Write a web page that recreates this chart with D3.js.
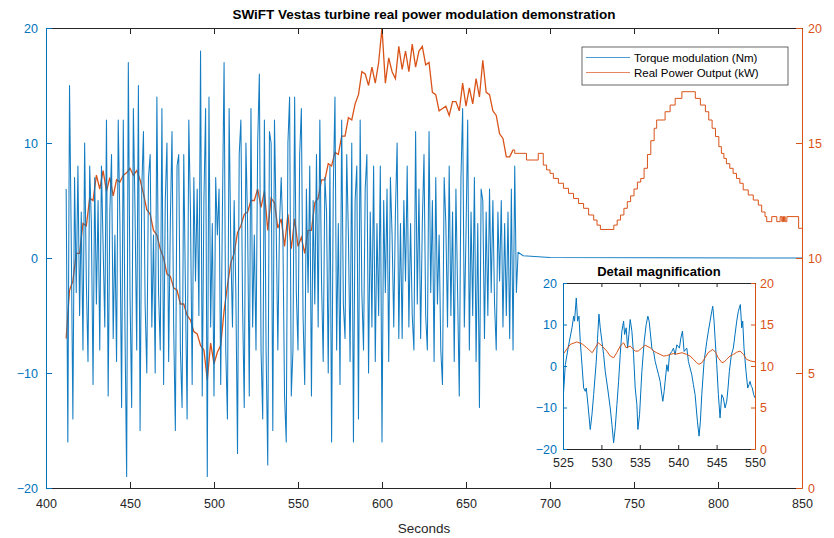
<!DOCTYPE html>
<html><head><meta charset="utf-8">
<script src="https://cdn.jsdelivr.net/npm/d3@7"></script>
<style>
body{margin:0;background:#fff}
svg{display:block}
text{font-family:"Liberation Sans",Arial,Helvetica,sans-serif}
</style>
</head><body>
<svg id="c" width="834" height="538"></svg>
<script>
// ---------- data ----------
const xTicks = [400,450,500,550,600,650,700,750,800,850];
const torqueTicks = [-20,-10,0,10,20];
const powerTicks = [0,5,10,15,20];
const insetXTicks = [525,530,535,540,545,550];

// Torque modulation (Nm), sampled every 1 s starting at 412 s
const torqueStart = 412, torqueStep = 1;
const torqueValues = [
 6,-16,15,2,-14,7,-3,8,-5,4,
 -8,10,-2,-9,8,3,-11,7,-4,5,
 -8,8,1,-6,12,-12,4,9,-7,2,
 -9,12,3,-13,12,-6,-19,17,-3,-13,
 13,4,-8,15,-15,6,11,-4,-10,7,
 9,-6,2,-10,14,-3,-8,13,-11,5,
 10,-9,3,11,-6,-15,8,9,-8,-13,
 9,-3,-14,12,4,-11,7,-2,6,-5,
 18,-12,5,13,-19,14,-6,3,-12,7,
 2,6,-11,4,17,-8,-14,13,1,-6,
 5,-3,-17,9,12,-4,-13,10,3,-12,
 13,-6,2,-8,10,16,-8,-14,12,-8,
 -18,11,10,-15,12,3,-8,3,7,2,
 -12,-16,10,14,-12,-8,14,-3,-8,9,
 13,-5,-11,6,-3,8,-12,5,-4,9,
 -6,12,-2,-9,7,4,-10,8,-16,6,
 14,-8,3,-11,12,-4,-7,9,2,-9,
 10,-16,5,8,-14,12,-3,-8,6,9,
 -10,4,-6,8,-9,3,-5,8,-16,5,
 -3,6,-9,7,2,-6,4,10,-7,3,
 -7,5,-2,8,-6,3,-5,-8,11,-4,
 6,-7,3,9,-5,-8,11,-3,5,-9,
 7,-4,2,-8,-11,7,3,-6,8,-5,
 4,-9,6,-3,-12,7,13,-6,2,12,
 -8,4,-5,7,-9,3,-13,6,5,-7,
 4,-5,6,-3,5,-4,-8,4,-2,5,
 -6,3,-5,4,-7,6,-8,8,-3
];
const torqueTailTimes = [681,684,700,850];
const torqueTailValues = [0.5,0.2,0.05,0];

// Real power output (kW), sampled every 2 s from 412 s to 678 s
const powerStart = 412, powerStep = 2;
const powerValues = [
 6.5,8.6,9.0,10.2,10.2,11.5,11.4,12.6,12.5,13.6,
 13.0,13.8,12.9,13.5,12.7,13.4,13.3,13.6,13.7,13.9,
 13.6,13.8,13.4,12.8,12.1,11.9,11.2,11.0,10.4,10.0,
 9.3,9.2,8.7,8.6,8.0,8.0,7.5,7.3,6.8,6.7,
 6.2,6.0,4.7,6.3,5.4,5.9,6.2,7.7,8.8,9.8,
 10.2,11.1,11.4,11.9,12.0,12.5,12.5,13.0,12.2,12.9,
 11.2,12.6,12.4,11.3,11.7,10.5,11.9,10.4,11.7,10.5,
 10.9,10.2,11.2,11.2,12.4,12.6,13.4,13.4,14.1,14.0,
 14.6,14.5,15.3,15.3,16.1,16.0,16.7,17.1,18.1,18.0,
 17.5,18.3,17.6,18.5,20.0,17.6,18.7,18.1,17.8,19.2,
 18.2,19.0,18.1,19.3,18.3,19.0,19.2,18.4,18.5,17.2,
 17.1,16.4,16.5,16.6,16.2,16.8,16.8,16.4,17.6,16.6,
 17.4,16.7,17.8,17.0,18.6,17.2,17.1,16.4,16.2,15.4,
 15.2,14.4,14.4,14.7
];
// Stepped power after modulation ends (step-after)
const stairTimes = [679,686,693,696,698,700,702,705,708,711,714,717,720,723,726,728,730,738,740,742,744,746,748,750,752,754,756,758,760,762,763.5,768.5,771.5,774.5,778.5,786.5,789.5,792.5,794.5,796.5,798.5,800.5,802,803.5,805,807,809,811,813,815,818,821,824,826,828,829,832,835,837,838,838.5,839,839.5,840,841,848,850];
const stairValues = [14.55,14.26,14.55,14.04,13.83,13.68,13.46,13.25,13.03,12.81,12.59,12.37,12.16,11.87,11.65,11.43,11.24,11.43,11.65,11.87,12.16,12.45,12.7,13.0,13.3,13.46,13.9,14.5,15.1,15.64,16.0,16.36,16.65,16.94,17.23,16.94,16.65,16.36,16.0,15.64,15.28,14.84,14.55,14.33,14.1,13.9,13.68,13.46,13.25,12.96,12.74,12.52,12.3,12.0,11.8,11.58,11.8,11.58,11.8,11.58,11.8,11.58,11.8,11.58,11.8,11.29,11.29];

// Inset detail (525–550 s)
const insetTorqueTimes = [525.0,525.3,525.74,526.17,526.39,526.5,526.73,526.9,527.08,527.25,527.47,527.69,527.9,528.03,528.25,528.55,528.77,528.99,529.33,529.5,529.68,529.85,530.07,530.29,530.5,530.81,531.15,531.37,531.59,531.8,532.02,532.24,532.45,532.67,532.89,533.02,533.23,533.41,533.58,533.75,533.97,534.19,534.4,534.62,534.75,534.97,535.27,535.57,535.83,536.05,536.22,536.35,536.57,536.79,537.0,537.22,537.44,537.65,537.87,538.0,538.17,538.3,538.52,538.69,538.86,539.17,539.38,539.6,539.82,540.16,540.34,540.55,540.77,541.12,541.33,541.55,541.77,541.98,542.2,542.5,542.72,542.89,543.07,543.37,543.72,543.93,544.15,544.37,544.5,544.67,544.8,545.02,545.23,545.45,545.67,545.88,546.1,546.32,546.49,546.66,546.92,547.18,547.4,547.62,547.83,547.96,548.09,548.27,548.4,548.57,548.83,549.05,549.22,549.35,549.52,549.65,549.83,550.0];
const insetTorqueValues = [-8.5,0.3,5.1,9.2,12.0,10.8,16.4,10.8,12.0,5.9,0.3,-5.3,-6.1,-5.3,-9.3,-15.3,-11.7,-6.9,1.1,6.7,12.5,9.2,5.9,2.7,-1.3,-5.3,-10.1,-14.1,-18.5,-14.9,-9.3,-3.7,2.7,8.4,10.8,7.6,9.2,4.3,7.6,11.2,8.4,2.7,-5.3,-9.3,-15.3,-11.7,-1.3,5.9,10.0,12.0,10.8,8.4,4.3,3.5,1.1,-0.5,-2.1,-3.7,-6.9,-8.5,-6.1,-3.7,0.3,-1.3,2.7,3.5,4.3,2.7,5.1,4.3,6.7,8.4,3.5,4.3,1.1,-0.5,-2.1,-4.5,-6.9,-13.3,-16.9,-13.3,-6.9,1.1,5.9,8.4,10.8,13.2,14.4,10.8,6.7,0.3,-6.9,-12.5,-6.9,-7.7,-10.1,-8.5,-5.3,-1.3,2.7,4.3,7.6,10.8,13.2,14.0,14.8,9.2,10.8,4.3,-1.3,-5.3,-4.5,-3.7,-4.9,-5.3,-6.9,-7.7];
const insetPowerTimes = [525.0,525.95,526.8,527.5,528.1,528.8,529.2,529.6,530.1,530.7,531.15,531.6,532.0,532.45,532.9,533.2,533.75,534.4,534.8,535.3,535.7,536.35,536.8,537.2,537.65,538.1,538.5,538.95,539.4,539.8,540.5,541.1,541.55,542.0,542.4,542.7,543.1,543.5,543.9,544.5,544.9,545.2,545.7,546.0,546.3,546.75,547.2,547.6,548.05,548.5,548.9,549.45,550.0];
const insetPowerValues = [11.4,12.6,12.9,12.65,12.2,11.6,12.2,12.8,12.4,11.8,11.2,11.0,11.6,12.4,12.8,12.2,12.4,11.8,11.8,12.2,12.5,12.2,11.8,11.6,11.4,11.2,11.25,11.4,11.5,11.45,11.6,11.4,11.2,10.8,10.4,10.2,10.4,11.0,11.6,12.0,11.6,11.0,10.4,10.5,10.8,11.2,11.4,11.65,11.8,11.4,10.8,10.6,10.5];

// ---------- drawing ----------
const BLUE = "#0072BD", ORANGE = "#D95319", DARK = "#262626";
const svg = d3.select("#c");
const L = 46, R = 802, T = 28, B = 488;

const x = d3.scaleLinear().domain([400,850]).range([L,R]);
const yL = d3.scaleLinear().domain([-20,20]).range([B,T]);
const yR = d3.scaleLinear().domain([0,20]).range([B,T]);

const defs = svg.append("defs");
defs.append("clipPath").attr("id","mainclip").append("rect")
  .attr("x",L).attr("y",T).attr("width",R-L).attr("height",B-T);

const torquePts = torqueValues.map((v,i)=>[torqueStart+i*torqueStep, v])
  .concat(torqueTailTimes.map((t,i)=>[t, torqueTailValues[i]]));
const powerPts = powerValues.map((v,i)=>[powerStart+i*powerStep, v]);
const stairPts = stairTimes.map((t,i)=>[t, stairValues[i]]);

const g = svg.append("g").attr("clip-path","url(#mainclip)");
g.append("path").datum(powerPts)
  .attr("d", d3.line().x(d=>x(d[0])).y(d=>yR(d[1])))
  .attr("fill","none").attr("stroke",ORANGE).attr("stroke-width",1.3);
g.append("path").datum([powerPts[powerPts.length-1]].concat(stairPts))
  .attr("d", d3.line().curve(d3.curveStepAfter).x(d=>x(d[0])).y(d=>yR(d[1])))
  .attr("fill","none").attr("stroke",ORANGE).attr("stroke-width",1);
g.append("path").datum(torquePts)
  .attr("d", d3.line().x(d=>x(d[0])).y(d=>yL(d[1])))
  .attr("fill","none").attr("stroke",BLUE).attr("stroke-width",1.05)
  .attr("stroke-opacity",0.92).attr("stroke-linejoin","round");

function styleAxis(sel, color, fs){
  sel.select(".domain").attr("stroke",color).attr("stroke-width",1);
  sel.selectAll(".tick line").attr("stroke",color).attr("stroke-width",1);
  sel.selectAll(".tick text").attr("fill",color).style("font-size",fs+"px")
     .style("font-family","'Liberation Sans',Arial,sans-serif");
}

// main axes
const gx = svg.append("g").attr("transform",`translate(0,${B})`)
  .call(d3.axisBottom(x).tickValues(xTicks).tickSizeInner(-6).tickSizeOuter(0).tickPadding(11));
styleAxis(gx, DARK, 12.5);
const gxt = svg.append("g").attr("transform",`translate(0,${T})`)
  .call(d3.axisTop(x).tickValues(xTicks).tickSizeInner(-6).tickSizeOuter(0).tickFormat(""));
styleAxis(gxt, DARK, 12);
const gyl = svg.append("g").attr("transform",`translate(${L},0)`)
  .call(d3.axisLeft(yL).tickValues(torqueTicks).tickSizeInner(-6).tickSizeOuter(0).tickPadding(8));
styleAxis(gyl, BLUE, 12.5);
const gyr = svg.append("g").attr("transform",`translate(${R},0)`)
  .call(d3.axisRight(yR).tickValues(powerTicks).tickSizeInner(-6).tickSizeOuter(0).tickPadding(6));
styleAxis(gyr, ORANGE, 12.5);

// title and label
svg.append("text").attr("x",(L+R)/2).attr("y",19).attr("text-anchor","middle")
  .style("font-size","13.5px").style("font-weight","bold").attr("fill","#000")
  .text("SWiFT Vestas turbine real power modulation demonstration");
svg.append("text").attr("x",(L+R)/2).attr("y",533).attr("text-anchor","middle")
  .style("font-size","13.5px").attr("fill",DARK).text("Seconds");

// legend
const lg = svg.append("g");
lg.append("rect").attr("x",582).attr("y",47).attr("width",206).attr("height",38)
  .attr("fill","#fff").attr("stroke",DARK).attr("stroke-width",0.7);
[["Torque modulation (Nm)",BLUE,57.5],["Real Power Output (kW)",ORANGE,72.5]].forEach(([lab,col,yy])=>{
  lg.append("line").attr("x1",586).attr("x2",630).attr("y1",yy).attr("y2",yy)
    .attr("stroke",col).attr("stroke-width",1).attr("stroke-opacity",0.7);
  lg.append("text").attr("x",634).attr("y",yy).attr("dy","0.35em")
    .style("font-size","11.5px").attr("fill","#000").text(lab);
});

// ---------- inset ----------
const iL = 563, iR = 755, iT = 283, iB = 449;
const xi = d3.scaleLinear().domain([525,550]).range([iL,iR]);
const yiL = d3.scaleLinear().domain([-20,20]).range([iB,iT]);
const yiR = d3.scaleLinear().domain([0,20]).range([iB,iT]);
svg.append("rect").attr("x",iL).attr("y",iT).attr("width",iR-iL).attr("height",iB-iT).attr("fill","#fff");
defs.append("clipPath").attr("id","insetclip").append("rect")
  .attr("x",iL).attr("y",iT).attr("width",iR-iL).attr("height",iB-iT);
const gi = svg.append("g").attr("clip-path","url(#insetclip)");
gi.append("path").datum(insetTorqueTimes.map((t,i)=>[t,insetTorqueValues[i]]))
  .attr("d", d3.line().x(d=>xi(d[0])).y(d=>yiL(d[1])))
  .attr("fill","none").attr("stroke",BLUE).attr("stroke-width",1);
gi.append("path").datum(insetPowerTimes.map((t,i)=>[t,insetPowerValues[i]]))
  .attr("d", d3.line().x(d=>xi(d[0])).y(d=>yiR(d[1])))
  .attr("fill","none").attr("stroke",ORANGE).attr("stroke-width",1);

const gix = svg.append("g").attr("transform",`translate(0,${iB})`)
  .call(d3.axisBottom(xi).tickValues(insetXTicks).tickSizeInner(-4).tickSizeOuter(0).tickPadding(9));
styleAxis(gix, DARK, 12.5);
const gixt = svg.append("g").attr("transform",`translate(0,${iT})`)
  .call(d3.axisTop(xi).tickValues(insetXTicks).tickSizeInner(-4).tickSizeOuter(0).tickFormat(""));
styleAxis(gixt, DARK, 12);
const giyl = svg.append("g").attr("transform",`translate(${iL},0)`)
  .call(d3.axisLeft(yiL).tickValues(torqueTicks).tickSizeInner(-4).tickSizeOuter(0).tickPadding(6));
styleAxis(giyl, BLUE, 12.5);
const giyr = svg.append("g").attr("transform",`translate(${iR},0)`)
  .call(d3.axisRight(yiR).tickValues(powerTicks).tickSizeInner(-4).tickSizeOuter(0).tickPadding(5));
styleAxis(giyr, ORANGE, 12.5);
svg.append("text").attr("x",(iL+iR)/2).attr("y",276).attr("text-anchor","middle")
  .style("font-size","13px").style("font-weight","bold").attr("fill","#000")
  .text("Detail magnification");
</script>
</body></html>
